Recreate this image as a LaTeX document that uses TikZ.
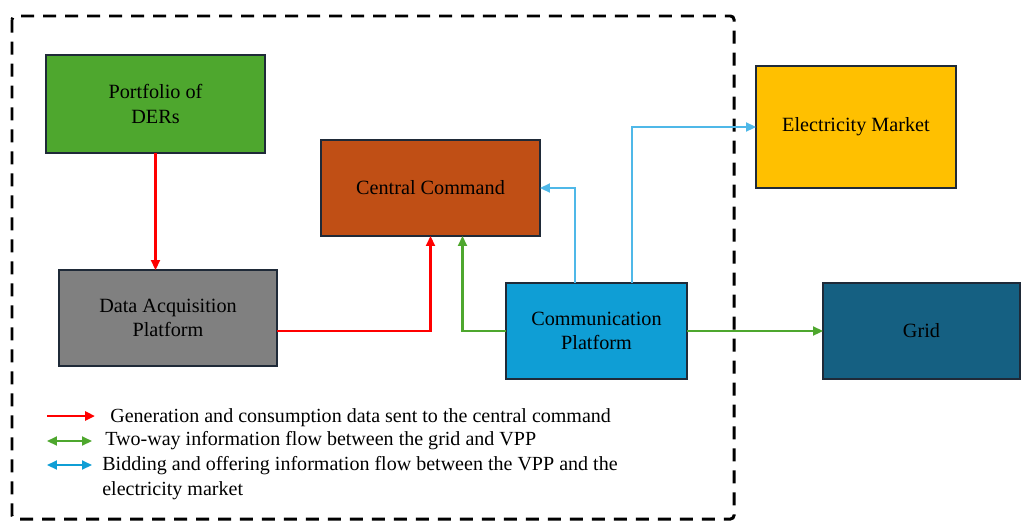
\documentclass[tikz,border=0pt]{standalone}
\usepackage{fontspec}
\setmainfont{Liberation Serif}
\usetikzlibrary{arrows.meta}

\definecolor{dergreen}{HTML}{4EA72E}
\definecolor{ccorange}{HTML}{C04F15}
\definecolor{commblue}{HTML}{0F9ED5}
\definecolor{mktyellow}{HTML}{FFC000}
\definecolor{gridblue}{HTML}{156082}
\definecolor{linkblue}{HTML}{4FB8E8}
\definecolor{linkgreen}{HTML}{4EA72E}
\definecolor{boxline}{HTML}{1F2A38}

\tikzset{
  block/.style={draw=boxline,line width=0.9pt,inner sep=0pt,outer sep=0pt,
    align=center,font=\fontsize{11.5}{14}\selectfont},
  flow/.style={line width=1.2pt,-{Triangle[length=2mm,width=1.8mm]}},
  twoway/.style={line width=1.2pt,{Triangle[length=2mm,width=1.8mm]}-{Triangle[length=2mm,width=1.8mm]}},
  legtext/.style={anchor=west,align=left,inner sep=0pt,font=\fontsize{11.4}{14.2}\selectfont}
}

\begin{document}
\begin{tikzpicture}[x=0.02cm,y=-0.02cm]
  \useasboundingbox (0,0) rectangle (1021,521);

  % VPP boundary
  \draw[line width=1.7pt,dash pattern=on 0.26cm off 0.18cm,rounded corners=2pt]
    (12,16) rectangle (734,519);

  % blocks
  \node[block,fill=dergreen,minimum width=4.38cm,minimum height=1.96cm] (der) at (155.5,104) {Portfolio of\\DERs};
  \node[block,fill=gray,minimum width=4.36cm,minimum height=1.92cm] (dap) at (168,318) {Data Acquisition\\Platform};
  \node[block,fill=ccorange,minimum width=4.38cm,minimum height=1.92cm] (cc) at (430.5,188) {Central Command};
  \node[block,fill=commblue,minimum width=3.62cm,minimum height=1.92cm] (comm) at (596.5,331) {Communication\\Platform};
  \node[block,fill=mktyellow,minimum width=4.0cm,minimum height=2.44cm] (mkt) at (856,127) {Electricity Market};
  \node[block,fill=gridblue,minimum width=3.94cm,minimum height=1.92cm] (grid) at (921.5,331) {Grid};

  % data flows into the central command
  \draw[flow,red] (der.south) -- (der.south |- dap.north);
  \draw[flow,red] ([yshift=-0.26cm]dap.east) -| (cc.south);
  \draw[flow,linkgreen] (comm.west) -| ([xshift=0.64cm]cc.south);

  % market and grid links
  \draw[flow,linkblue] ([xshift=-0.43cm]comm.north) |- (cc.east);
  \draw[flow,linkblue] ([xshift=0.71cm]comm.north) |- (mkt.west);
  \draw[flow,linkgreen] (comm.east) -- (grid.west);

  % legend
  \node[legtext] (rtxt) at (110,418) {Generation and consumption data sent to the central command};
  \node[legtext] (gtxt) at (105,441) {Two-way information flow between the grid and VPP};
  \node[legtext,anchor=north west] (btxt) at (102,456) {Bidding and offering information flow between the VPP and the\\electricity market};

  \coordinate (r0) at (47,416);
  \coordinate (g0) at (47,441);
  \coordinate (b0) at (47,465);
  \draw[flow,red,line width=1.6pt] (r0) -- ++(48,0);
  \draw[twoway,linkgreen] (g0) -- ++(45,0);
  \draw[twoway,commblue] (b0) -- ++(45,0);

\end{tikzpicture}
\end{document}
